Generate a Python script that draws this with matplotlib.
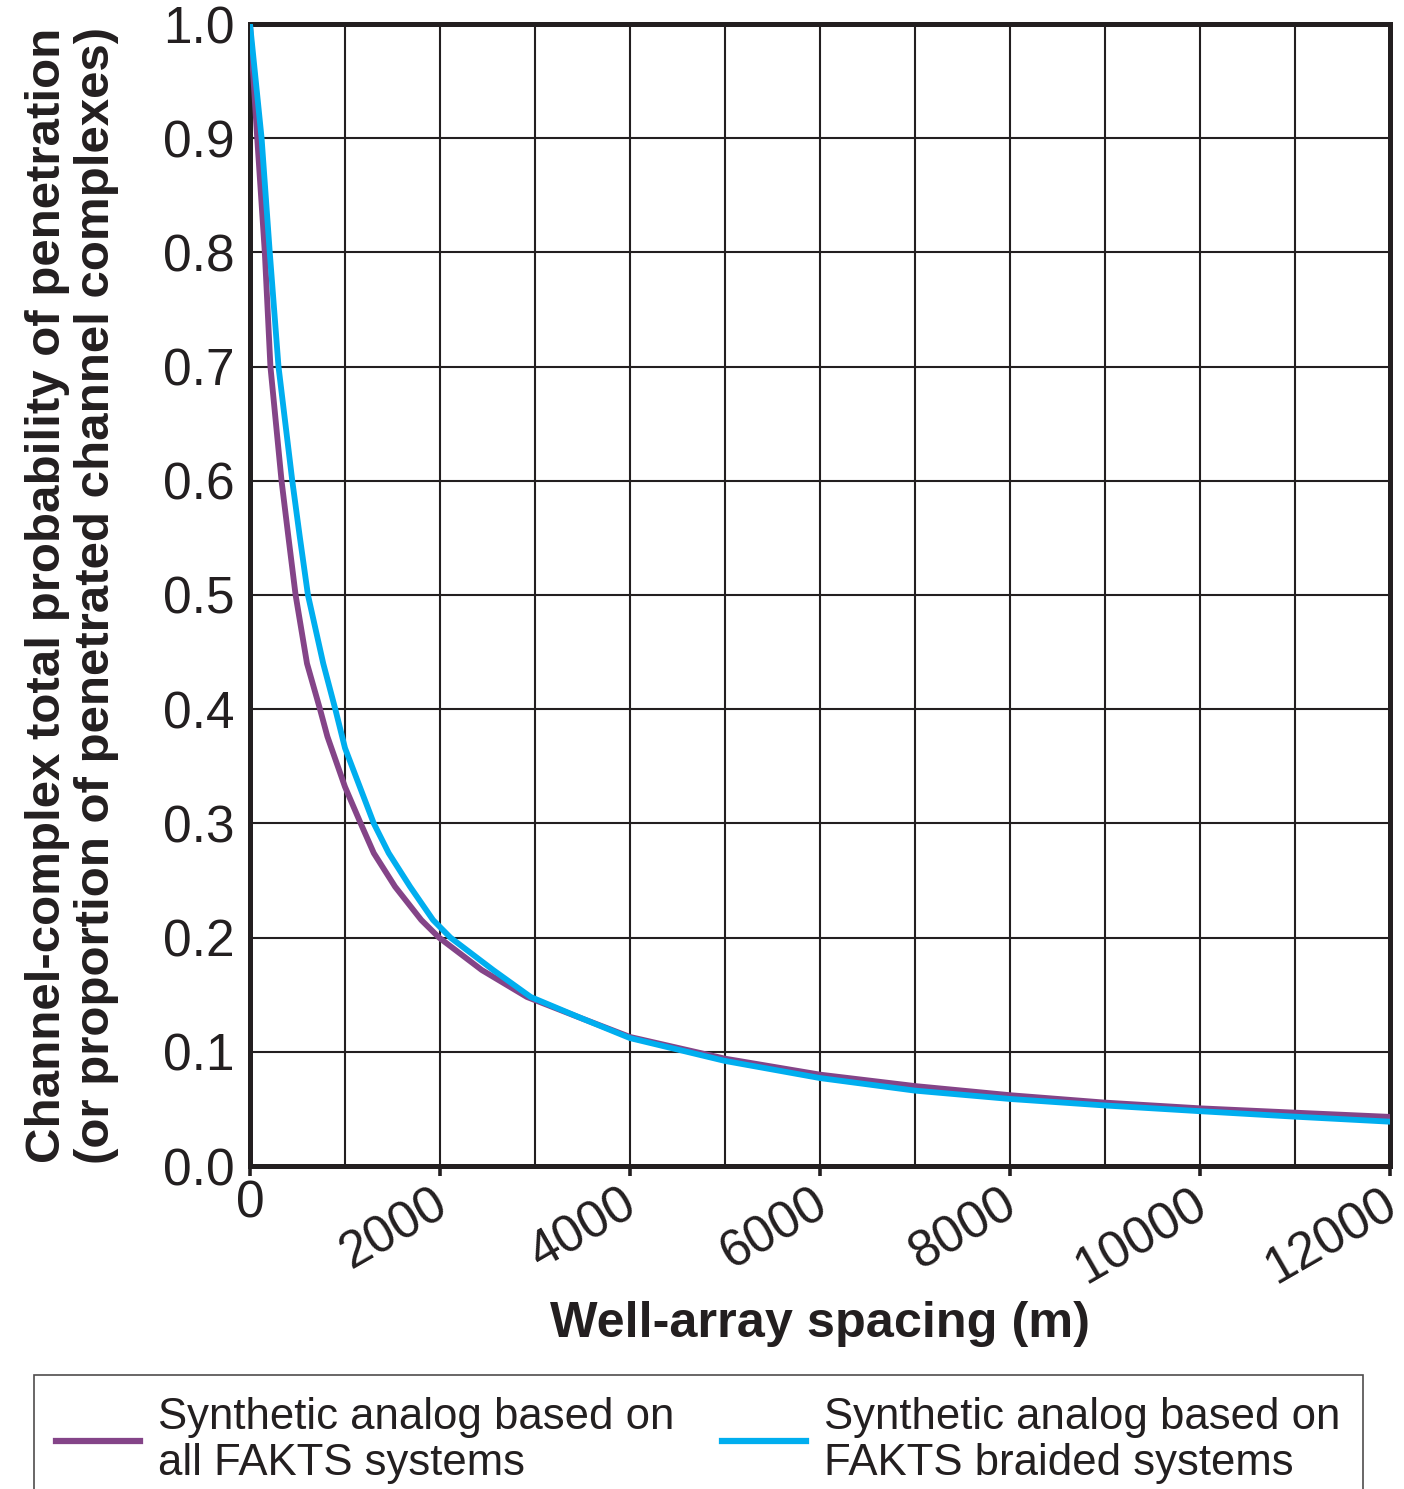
import numpy as np
import matplotlib
matplotlib.use("Agg")
import matplotlib.pyplot as plt
from matplotlib.ticker import MultipleLocator
from matplotlib.transforms import ScaledTranslation

plt.rcParams['font.family'] = ['Liberation Sans', 'DejaVu Sans']

INK = '#231f20'

# Well-array spacing (m) vs total probability of penetration
spacing_all = [0, 76, 156, 215, 332, 404, 480, 600, 737, 815, 1000, 1165, 1303,
               1527, 1803, 1990, 2440, 2915, 3500, 4000, 5000, 6000, 7000,
               8000, 9000, 10000, 11000, 12000]
prob_all = [1.0, 0.9, 0.8, 0.7, 0.6, 0.551, 0.5, 0.44, 0.4, 0.376, 0.332, 0.3,
            0.274, 0.2446, 0.2154, 0.2, 0.1716, 0.148, 0.129, 0.113, 0.094,
            0.080, 0.070, 0.062, 0.0555, 0.0505, 0.0467, 0.043]

spacing_braided = [0, 122, 208, 300, 445, 524, 610, 771, 898, 1000, 1303, 1460,
                   1685, 1927, 2110, 2560, 2955, 3500, 4000, 5000, 6000, 7000,
                   8000, 9000, 10000, 11000, 12000]
prob_braided = [1.0, 0.9, 0.8, 0.7, 0.6, 0.551, 0.5, 0.44, 0.4, 0.366, 0.3, 0.274,
                0.2446, 0.2154, 0.2, 0.1716, 0.148, 0.129, 0.112, 0.092, 0.077,
                0.066, 0.0587, 0.053, 0.048, 0.0432, 0.0388]

label_all = "Synthetic analog based on\nall FAKTS systems"
label_braided = "Synthetic analog based on\nFAKTS braided systems"

x_ticks = [0, 2000, 4000, 6000, 8000, 10000, 12000]
y_ticks = np.round(np.arange(0, 1.01, 0.1), 1)

fig = plt.figure(figsize=(14.04, 14.89), dpi=100)
ax = fig.add_axes([250 / 1404, 1 - 1166 / 1489, 1140 / 1404, 1142 / 1489])

l1, = ax.plot(spacing_all, prob_all, color='#844488', lw=4.2, label=label_all,
              solid_joinstyle='round', zorder=3)
l2, = ax.plot(spacing_braided, prob_braided, color='#00aeef', lw=4.2,
              label=label_braided, solid_joinstyle='round', zorder=4)

ax.set_xlim(0, 12000)
ax.set_ylim(0, 1.0)
ax.set_xticks(x_ticks)
ax.xaxis.set_minor_locator(MultipleLocator(1000))
ax.set_yticks(y_ticks)
ax.set_yticklabels([f"{v:.1f}" for v in y_ticks])
ax.grid(True, which='both', color=INK, lw=1.5)
ax.set_axisbelow(True)

for s in ax.spines.values():
    s.set_linewidth(3.6)
    s.set_color(INK)

ax.tick_params(axis='y', length=0, pad=11, labelsize=37, labelcolor=INK)
ax.tick_params(axis='x', which='major', direction='out', length=7, width=2.6,
               color=INK, pad=3, labelsize=37, labelcolor=INK)
ax.tick_params(axis='x', which='minor', length=0)

# rotated spacing labels, nudged a little left of their ticks
nudge = ScaledTranslation(-9 / 100, 0, fig.dpi_scale_trans)
xlabels = ax.set_xticklabels([str(v) for v in x_ticks])
for i, t in enumerate(xlabels):
    if i == 0:
        t.set_rotation(0)
        t.set_ha('center')
    else:
        t.set_rotation(30)
        t.set_ha('right')
        t.set_va('top')
        t.set_rotation_mode('anchor')
        t.set_transform(t.get_transform() + nudge)

ax.set_xlabel("Well-array spacing (m)", fontsize=36.3, fontweight='bold',
              color=INK, labelpad=5)
ax.set_ylabel("Channel-complex total probability of penetration\n"
              "(or proportion of penetrated channel complexes)",
              fontsize=35.5, fontweight='bold', color=INK, labelpad=32,
              linespacing=1.1)

leg = fig.legend(handles=[l1, l2], loc='upper left',
                 bbox_to_anchor=(34 / 1404, 1 - 1375 / 1489), ncol=2,
                 fontsize=31.5, frameon=True, fancybox=False, edgecolor=INK,
                 handlelength=1.92, handletextpad=0.41, columnspacing=1.1,
                 borderpad=0.5, borderaxespad=0)
leg.get_frame().set_linewidth(1.2)
for t in leg.get_texts():
    t.set_linespacing(1.15)
    t.set_color(INK)
for h in leg.get_lines():
    h.set_linewidth(4.5)

fig.savefig("out.png", dpi=100)
